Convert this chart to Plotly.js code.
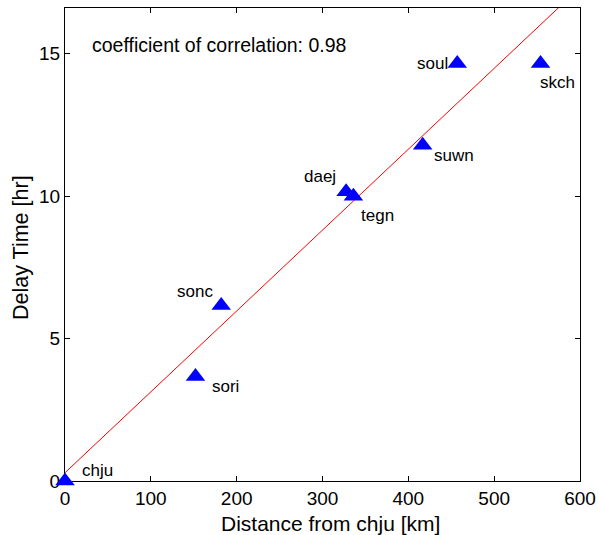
<!DOCTYPE html>
<html>
<head>
<meta charset="utf-8">
<script src="https://cdn.plot.ly/plotly-3.0.1.min.js"></script>
<style>
  html, body { margin: 0; padding: 0; background: #fff; }
  #chart { width: 598px; height: 535px; }
</style>
</head>
<body>
<div id="chart"></div>
<script>
// Station names
const stations = ["chju", "sori", "sonc", "daej", "tegn", "suwn", "soul", "skch"];
// Distance from chju [km]
const distanceKm = [0, 152, 182, 327.5, 336, 416.7, 457, 554];
// Delay time [hr]
const delayHr = [0, 3.67, 6.16, 10.15, 9.99, 11.78, 14.65, 14.65];
// Fitted line end points
const fitX = [0, 600];
const fitY = [0.29, 17.32];
const correlationText = "coefficient of correlation: 0.98";
const xTitle = "Distance from chju [km]";
const yTitle = "Delay Time [hr]";
const xTicks = [0, 100, 200, 300, 400, 500, 600];
const yTicks = [0, 5, 10, 15];

// label offsets (pixels) relative to each marker — styling only
const labelOffsets = [
  [32, -11], [30, 10], [-26, -14], [-26, -15],
  [24, 19], [31, 10], [-25, 0], [17, 19]
];

const FONT = "Liberation Sans, Arial, Helvetica, sans-serif";

const traces = [
  {
    x: fitX, y: fitY, mode: "lines", type: "scatter",
    line: { color: "#ff0000", width: 1 },
    hoverinfo: "skip", showlegend: false
  },
  {
    x: distanceKm, y: delayHr, mode: "markers", type: "scatter",
    text: stations,
    marker: { symbol: "triangle-up", size: 17, color: "#0000ff", line: { width: 0 } },
    cliponaxis: false, showlegend: false
  }
];

const annotations = stations.map((s, i) => ({
  x: distanceKm[i], y: delayHr[i], xref: "x", yref: "y",
  text: s, showarrow: false,
  xshift: labelOffsets[i][0], yshift: -labelOffsets[i][1],
  xanchor: "center", yanchor: "middle",
  font: { family: FONT, size: 17, color: "#000" }
}));
annotations.push({
  x: 29, y: 15.3, xref: "x", yref: "y", text: correlationText,
  showarrow: false, xanchor: "left", yanchor: "middle",
  font: { family: FONT, size: 19.5, color: "#000" }
});
annotations.push({
  x: 0.5146, y: -0.0888, xref: "paper", yref: "paper", text: xTitle,
  showarrow: false, xanchor: "center", yanchor: "middle",
  font: { family: FONT, size: 21, color: "#000" }
});
annotations.push({
  x: -0.0845, y: 0.4937, xref: "paper", yref: "paper", text: yTitle,
  showarrow: false, xanchor: "center", yanchor: "middle", textangle: -90,
  font: { family: FONT, size: 21.5, color: "#000" }
});

const axisCommon = {
  showgrid: false, zeroline: false, showline: true, linecolor: "#000", linewidth: 1,
  mirror: "ticks", ticks: "inside", ticklen: 5, tickwidth: 1, tickcolor: "#000",
  layer: "below traces",
  tickfont: { family: FONT, size: 19, color: "#000" }
};

const layout = {
  width: 598, height: 535,
  margin: { l: 65, r: 18, t: 8, b: 54 },
  paper_bgcolor: "#fff", plot_bgcolor: "#fff",
  showlegend: false,
  xaxis: Object.assign({}, axisCommon, {
    range: [0, 600], tickvals: xTicks, ticktext: xTicks.map(String)
  }),
  yaxis: Object.assign({}, axisCommon, {
    range: [0, 16.6], tickvals: yTicks, ticktext: yTicks.map(String)
  }),
  annotations: annotations
};

Plotly.newPlot("chart", traces, layout, { displayModeBar: false, staticPlot: true });
</script>
</body>
</html>
